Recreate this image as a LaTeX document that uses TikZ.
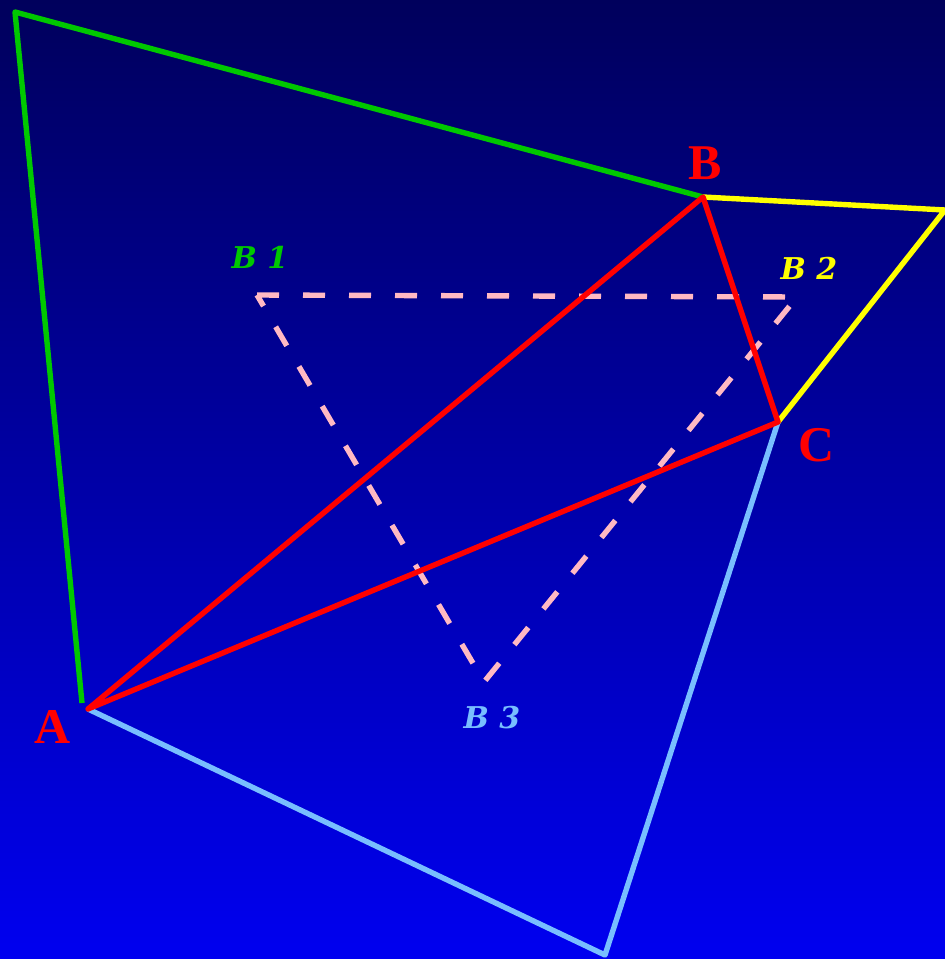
\documentclass[tikz,border=0pt]{standalone}
\usepackage{fontspec}
\usepackage{tikz}
\usetikzlibrary{positioning, calc}
\newfontfamily\nummerfont{DejaVu Serif}
\newfontfamily\eckfont{Liberation Serif}

\definecolor{bgtop}{RGB}{0,0,92}
\definecolor{bgbottom}{RGB}{0,0,240}
\definecolor{gruen}{RGB}{0,200,0}
\definecolor{gelb}{RGB}{255,255,0}
\definecolor{hellblau}{RGB}{120,190,255}
\definecolor{rosa}{RGB}{255,185,195}

\tikzset{
  kante/.style={line width=2.7pt, line join=round},
  ecke/.style={text=red, font=\eckfont\fontsize{25}{29}\selectfont\bfseries},
  bname/.style={font=\nummerfont\fontsize{15}{18}\selectfont\bfseries\itshape}
}

\begin{document}
\begin{tikzpicture}[x=0.5pt, y=-0.5pt]
      % Hintergrund mit Farbverlauf
      \shade[top color=bgtop, bottom color=bgbottom] (0,0) rectangle (945,959);
      \useasboundingbox (0,0) rectangle (945,959);

      % Eckpunkte
      \coordinate (A) at (88,709);
      \coordinate (B) at (703,197);
      \coordinate (C) at (778,422);
      \coordinate (G) at (15,12);
      \coordinate (Y) at (945,210);
      \coordinate (H) at (605,955);
      \coordinate (B1) at (257,295);
      \coordinate (B2) at (797,297);
      \coordinate (B3) at (484,682);

      % Die drei aeusseren Flaechen
      \draw[kante, gruen] ($(A)+(-6,-6)$) -- (G) -- (B);
      \draw[kante, gelb] (B) -- (Y) -- (C);
      \draw[kante, hellblau] (A) -- (H) -- (C);

      % Gestricheltes Dreieck
      \draw[kante, rosa, dash pattern=on 11pt off 12pt] (B1) -- (B2) -- (B3) -- cycle;

      % Das rote Dreieck ABC
      \draw[kante, red] (A) -- (B) -- (C) -- cycle;

      % Beschriftungen
      \node[ecke] (lA) at (53,727) {A};
      \node[ecke] (lB) at (705,163) {B};
      \node[ecke] (lC) at (817,445) {C};
      \node[bname, text=gruen] (lB1) at (260,257) {B 1};
      \node[bname, text=gelb] (lB2) at (809,268) {B 2};
      \node[bname, text=hellblau] (lB3) at (492,718) {B 3};
    \end{tikzpicture}
\end{document}
